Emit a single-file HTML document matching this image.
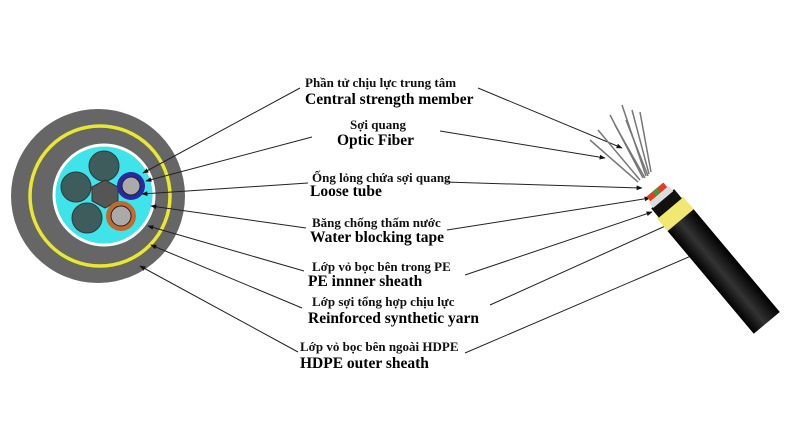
<!DOCTYPE html>
<html><head><meta charset="utf-8"><style>
html,body{margin:0;padding:0;background:#fff;}
svg{display:block}
.vn{font-family:"Liberation Serif",serif;font-weight:bold;font-size:13px;fill:#111}
.en{font-family:"Liberation Serif",serif;font-weight:bold;font-size:15.5px;fill:#000}
</style></head><body>
<svg width="800" height="426" viewBox="0 0 800 426" xmlns="http://www.w3.org/2000/svg">
<defs>
<marker id="a" viewBox="0 0 10 10" refX="9" refY="5" markerWidth="6" markerHeight="6" orient="auto"><path d="M0,1 L10,5 L0,9z" fill="#111"/></marker>
<linearGradient id="cg" x1="0" y1="0" x2="1" y2="0"><stop offset="0" stop-color="#000"/><stop offset="0.45" stop-color="#333"/><stop offset="1" stop-color="#000"/></linearGradient>
</defs>
<circle cx="98" cy="196" r="87" fill="#666"/>
<circle cx="100" cy="196" r="70" fill="none" stroke="#e8e830" stroke-width="3.5"/>
<circle cx="104" cy="195" r="50" fill="#3fe3ea" stroke="#fff" stroke-width="3"/>
<circle cx="104" cy="166" r="15" fill="#3f5c5c" stroke="#2a3a3a"/>
<circle cx="76" cy="187" r="15" fill="#3f5c5c" stroke="#2a3a3a"/>
<circle cx="87" cy="218" r="15" fill="#3f5c5c" stroke="#2a3a3a"/>
<polygon points="105,180 118,187 118,201 105,208 92,201 92,187" fill="#555" stroke="#333"/>
<circle cx="131" cy="186" r="14" fill="#2a2aa0"/><circle cx="131" cy="186" r="9" fill="#aaa" stroke="#222"/>
<circle cx="121" cy="216" r="15" fill="#c06a30"/><circle cx="121" cy="216" r="10" fill="#aaa" stroke="#222"/>
<g stroke="#222" stroke-width="1" marker-end="url(#a)">
<line x1="300" y1="88" x2="143" y2="173"/>
<line x1="312" y1="137" x2="146" y2="181"/>
<line x1="308" y1="183" x2="142" y2="194"/>
<line x1="306" y1="228" x2="151" y2="206"/>
<line x1="304" y1="271" x2="148" y2="226"/>
<line x1="302" y1="308" x2="151" y2="245"/>
<line x1="298" y1="352" x2="140" y2="266"/>
<line x1="478" y1="88" x2="622" y2="148"/>
<line x1="440" y1="131" x2="605" y2="158"/>
<line x1="445" y1="182" x2="642" y2="188"/>
<line x1="447" y1="230" x2="650" y2="198"/>
<line x1="465" y1="275" x2="652" y2="212"/>
<line x1="490" y1="305" x2="672" y2="223"/>
<line x1="465" y1="353" x2="698" y2="253"/>
</g>
<g transform="translate(662,198) rotate(-40)">
<rect x="-17" y="28" width="34" height="135" fill="url(#cg)"/>
<rect x="-17" y="12" width="34" height="17" fill="#f0e870"/>
<rect x="-15" y="1" width="30" height="12" fill="#111"/>
<rect x="-13" y="-5" width="26" height="7" fill="#ddd"/>
<rect x="-11" y="-11" width="22" height="6" fill="#e04020"/>
<rect x="-3" y="-11" width="5" height="6" fill="#30a040"/>
</g>
<g stroke="#777" stroke-width="1.5">
<line x1="640" y1="180" x2="598" y2="130"/><line x1="643" y1="178" x2="610" y2="115"/>
<line x1="646" y1="176" x2="622" y2="105"/><line x1="649" y1="174" x2="632" y2="110"/>
<line x1="651" y1="172" x2="640" y2="112"/><line x1="638" y1="182" x2="590" y2="140"/>
<line x1="645" y1="178" x2="615" y2="125"/><line x1="648" y1="176" x2="626" y2="120"/>
</g>
<text class="vn" x="305" y="87">Phần tử chịu lực trung tâm</text>
<text class="en" x="305" y="104">Central strength member</text>
<text class="vn" x="350" y="129">Sợi quang</text>
<text class="en" x="337" y="145">Optic Fiber</text>
<text class="vn" x="312" y="182">Ống lỏng chứa sợi quang</text>
<text class="en" x="310" y="196">Loose tube</text>
<text class="vn" x="312" y="227">Băng chống thấm nước</text>
<text class="en" x="310" y="242">Water blocking tape</text>
<text class="vn" x="312" y="271">Lớp vỏ bọc bên trong PE</text>
<text class="en" x="308" y="286">PE innner sheath</text>
<text class="vn" x="312" y="306">Lớp sợi tổng hợp chịu lực</text>
<text class="en" x="308" y="323">Reinforced synthetic yarn</text>
<text class="vn" x="300" y="351">Lớp vỏ bọc bên ngoài HDPE</text>
<text class="en" x="300" y="368">HDPE outer sheath</text>
</svg>
</body></html>
